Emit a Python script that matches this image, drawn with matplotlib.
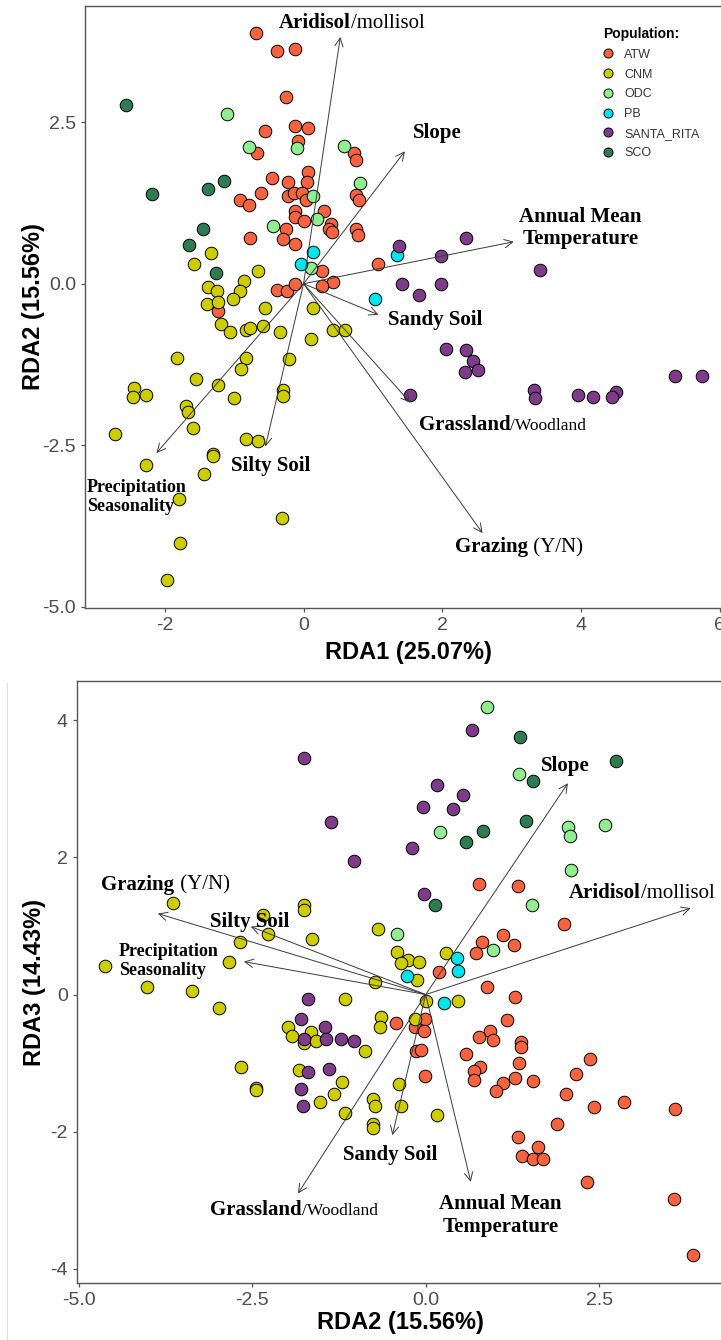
import numpy as np
import matplotlib
matplotlib.use("Agg")
import matplotlib.pyplot as plt
from matplotlib.lines import Line2D
from matplotlib.offsetbox import TextArea, HPacker, AnnotationBbox

plt.rcParams['axes.unicode_minus'] = False
plt.rcParams['font.family'] = ['Liberation Sans', 'DejaVu Sans']

populations = ["ATW", "CNM", "ODC", "PB", "SANTA_RITA", "SCO"]
pop_colors = ["#F8633F", "#CDCD00", "#90EE90", "#00E5EE", "#7D3B8A", "#2E7D52"]

# site scores on RDA1 / RDA2
atw_12 = [(-0.68, 3.88), (-0.38, 3.61), (-0.13, 3.63), (-0.25, 2.89), (-0.56, 2.36), (-0.13, 2.44),
          (0.07, 2.41), (-0.08, 2.21), (-0.67, 2.03), (0.73, 2.02), (0.76, 1.92), (0.06, 1.73),
          (-0.45, 1.64), (-0.23, 1.57), (0.05, 1.57), (-0.62, 1.41), (-0.23, 1.36), (-0.14, 1.41),
          (-0.02, 1.40), (0.04, 1.30), (-0.91, 1.30), (-0.79, 1.22), (0.76, 1.38), (0.80, 1.30),
          (-0.12, 1.12), (-0.13, 1.04), (0.29, 1.13), (0.01, 0.97), (0.40, 0.93), (0.37, 0.84),
          (0.41, 0.80), (0.76, 0.84), (0.79, 0.76), (-0.25, 0.84), (-0.29, 0.70), (-0.12, 0.61),
          (-0.77, 0.71), (0.26, 0.19), (0.43, 0.02), (0.27, -0.03), (-0.38, -0.10), (-0.24, -0.12),
          (-0.13, -0.01), (-1.23, -0.42), (1.07, 0.30)]
cnm_12 = [(-1.34, 0.47), (-1.58, 0.31), (-0.66, 0.19), (-1.37, -0.05), (-1.25, -0.12), (-0.86, 0.05),
          (-0.92, -0.12), (-1.01, -0.23), (-1.39, -0.32), (-1.23, -0.29), (-0.56, -0.37), (0.14, -0.37),
          (-1.19, -0.62), (-1.06, -0.74), (-0.83, -0.72), (-0.77, -0.68), (-0.58, -0.66), (-0.34, -0.74),
          (0.42, -0.71), (0.60, -0.71), (0.11, -0.85), (-1.82, -1.15), (-0.83, -1.15), (-0.90, -1.32),
          (-0.21, -1.17), (-1.55, -1.48), (-1.23, -1.57), (-2.45, -1.62), (-2.46, -1.75), (-2.27, -1.72),
          (-0.30, -1.65), (-0.30, -1.74), (-1.00, -1.77), (-1.69, -1.90), (-1.66, -1.98), (-1.59, -2.24),
          (-2.72, -2.33), (-0.83, -2.40), (-0.65, -2.43), (-1.31, -2.64), (-1.30, -2.66), (-2.27, -2.81),
          (-1.43, -2.94), (-1.79, -3.34), (-0.31, -3.62), (-1.78, -4.01), (-1.97, -4.59)]
odc_12 = [(-1.11, 2.63), (-0.10, 2.10), (-0.79, 2.11), (0.58, 2.14), (0.14, 1.36), (0.20, 1.01),
          (-0.44, 0.90), (0.11, 0.24), (0.82, 1.56)]
pb_12 = [(0.14, 0.49), (-0.03, 0.30), (1.34, 0.45), (1.03, -0.24)]
sr_12 = [(2.34, 0.71), (1.37, 0.58), (1.98, 0.43), (3.41, 0.21), (1.42, 0.00), (1.98, 0.00),
         (1.67, -0.17), (2.06, -1.01), (2.34, -1.02), (2.44, -1.20), (2.33, -1.37), (2.51, -1.34),
         (1.54, -1.73), (3.32, -1.65), (3.34, -1.77), (3.95, -1.73), (4.17, -1.75), (4.50, -1.68),
         (4.44, -1.76), (5.36, -1.43), (5.75, -1.43)]
sco_12 = [(-2.56, 2.76), (-2.18, 1.39), (-1.37, 1.46), (-1.15, 1.59), (-1.45, 0.85), (-1.65, 0.60),
          (-1.26, 0.16)]

# site scores on RDA2 / RDA3
atw_23 = [(0.77, 1.61), (1.33, 1.58), (2.00, 1.03), (1.11, 0.87), (0.81, 0.77), (1.27, 0.72),
          (0.73, 0.61), (0.19, 0.33), (0.88, 0.11), (1.29, -0.04), (-0.43, -0.41), (-0.01, -0.36),
          (-0.15, -0.47), (-0.03, -0.53), (1.17, -0.37), (0.93, -0.53), (0.97, -0.66), (0.77, -0.62),
          (1.37, -0.69), (1.37, -0.76), (-0.14, -0.82), (-0.07, -0.81), (0.58, -0.87), (2.37, -0.94),
          (1.35, -1.00), (0.79, -1.06), (0.69, -1.11), (0.69, -1.25), (2.17, -1.16), (-0.01, -1.19),
          (1.29, -1.21), (1.55, -1.26), (1.11, -1.29), (1.01, -1.40), (2.02, -1.45), (2.42, -1.64),
          (2.86, -1.57), (3.60, -1.67), (1.90, -1.89), (1.33, -2.08), (1.62, -2.22), (1.39, -2.35),
          (1.54, -2.40), (1.69, -2.40), (2.33, -2.73), (3.58, -2.98), (3.85, -3.79)]
cnm_23 = [(-3.64, 1.33), (-1.76, 1.30), (-1.75, 1.23), (-2.35, 1.16), (-2.27, 0.88), (-2.68, 0.76),
          (-1.64, 0.81), (-2.83, 0.48), (-4.62, 0.42), (-4.02, 0.11), (-3.37, 0.05), (-2.98, -0.19),
          (-1.17, -0.06), (-1.99, -0.47), (-1.92, -0.60), (-1.66, -0.54), (-1.76, -0.71), (-1.58, -0.67),
          (-2.66, -1.06), (-1.82, -1.10), (-2.45, -1.36), (-2.44, -1.39), (-1.20, -1.28), (-1.32, -1.45),
          (-1.52, -1.57), (-1.16, -1.72), (-0.69, 0.95), (-0.41, 0.62), (-0.25, 0.50), (-0.35, 0.46),
          (-0.09, 0.48), (0.29, 0.60), (-0.13, 0.21), (-0.73, 0.19), (0.01, -0.10), (0.46, -0.10),
          (-0.65, -0.33), (-0.66, -0.47), (-0.15, -0.35), (-0.87, -0.83), (-0.39, -1.30), (-0.76, -1.52),
          (-0.73, -1.62), (-0.35, -1.62), (0.17, -1.76), (-0.76, -1.89), (-0.76, -1.95)]
odc_23 = [(0.88, 4.19), (1.34, 3.21), (2.05, 2.44), (2.08, 2.31), (2.58, 2.47), (0.21, 2.37),
          (2.09, 1.82), (1.53, 1.30), (-0.41, 0.88), (0.97, 0.65)]
pb_23 = [(0.45, 0.53), (0.47, 0.34), (-0.27, 0.27), (0.27, -0.12)]
sr_23 = [(-1.76, 3.45), (-1.36, 2.52), (-1.03, 1.94), (-1.69, -0.07), (-1.79, -0.36), (-1.45, -0.47),
         (-1.75, -0.65), (-1.44, -0.65), (-1.22, -0.65), (-1.03, -0.68), (-1.69, -1.13), (-1.39, -1.08),
         (-1.80, -1.38), (-1.77, -1.62), (0.67, 3.86), (0.17, 3.05), (0.54, 2.91), (-0.04, 2.74),
         (0.39, 2.70), (-0.20, 2.14), (-0.02, 1.47)]
sco_23 = [(1.36, 3.76), (2.74, 3.40), (1.55, 3.11), (1.44, 2.53), (0.82, 2.39), (0.58, 2.23),
          (0.14, 1.31)]

# environmental biplot arrows
env_vars = ["Aridisol/mollisol", "Slope", "Annual Mean Temperature", "Sandy Soil",
            "Grassland/Woodland", "Grazing (Y/N)", "Silty Soil", "Precipitation Seasonality"]
env_rda1 = [0.53, 1.46, 3.03, 1.08, 1.54, 2.58, -0.55, -2.12]
env_rda2 = [3.82, 2.05, 0.65, -0.48, -1.84, -3.86, -2.52, -2.62]
env_rda3 = [1.26, 3.08, -2.73, -2.05, -2.90, 1.18, 0.99, 0.48]

scores_12 = [atw_12, cnm_12, odc_12, pb_12, sr_12, sco_12]
scores_23 = [atw_23, cnm_23, odc_23, pb_23, sr_23, sco_23]

BIG = 15
SERIF = 'Liberation Serif'

# label text pieces: (text, weight, size)
label_parts = {
    "Aridisol/mollisol": [("Aridisol", 'bold', BIG), ("/mollisol", 'normal', BIG)],
    "Slope": [("Slope", 'bold', BIG)],
    "Sandy Soil": [("Sandy Soil", 'bold', BIG)],
    "Grassland/Woodland": [("Grassland", 'bold', BIG), ("/Woodland", 'normal', 12.5)],
    "Grazing (Y/N)": [("Grazing", 'bold', BIG), (" (Y/N)", 'normal', BIG)],
    "Silty Soil": [("Silty Soil", 'bold', BIG)],
}
# label anchor positions for each panel
label_pos_12 = {
    "Aridisol/mollisol": (0.70, 4.04), "Slope": (1.93, 2.33), "Sandy Soil": (1.90, -0.56),
    "Grassland/Woodland": (2.87, -2.19), "Grazing (Y/N)": (3.11, -4.08), "Silty Soil": (-0.48, -2.82),
    "Annual Mean Temperature": (3.99, 0.86), "Precipitation Seasonality": (-3.12, -3.30),
}
label_pos_23 = {
    "Aridisol/mollisol": (3.11, 1.48), "Slope": (2.01, 3.33), "Sandy Soil": (-0.51, -2.34),
    "Grassland/Woodland": (-1.90, -3.14), "Grazing (Y/N)": (-3.75, 1.60), "Silty Soil": (-2.53, 1.06),
    "Annual Mean Temperature": (1.08, -3.22), "Precipitation Seasonality": (-4.42, 0.49),
}

fig = plt.figure(figsize=(7.21, 13.40), dpi=100)
W, H = 721.0, 1340.0


def px_axes(left, top, right, bottom):
    return fig.add_axes([left / W, 1 - bottom / H, (right - left) / W, (bottom - top) / H])


def style_axes(ax):
    for s in ax.spines.values():
        s.set_color('#555555')
        s.set_linewidth(1.0)
    ax.tick_params(direction='out', length=3, width=0.9, color='#555555',
                   labelsize=14, labelcolor='#4d4d4d', pad=3.5)


def draw_panel(ax, scores, ex, ey, label_pos):
    for pts, col in zip(scores, pop_colors):
        pts = np.array(pts)
        ax.scatter(pts[:, 0], pts[:, 1], s=82, c=col, edgecolors='black', linewidths=0.7, zorder=2)
    for name, x, y in zip(env_vars, ex, ey):
        ax.annotate('', xy=(x, y), xytext=(0, 0),
                    arrowprops=dict(arrowstyle='->,head_length=0.6,head_width=0.3', lw=0.7,
                                    color='#3a3a3a', shrinkA=0, shrinkB=0), zorder=3)
        lx, ly = label_pos[name]
        if name == "Annual Mean Temperature":
            ax.text(lx, ly, "Annual Mean\nTemperature", ha='center', va='center', family=SERIF,
                    fontweight='bold', fontsize=BIG, linespacing=1.15, zorder=5)
        elif name == "Precipitation Seasonality":
            ax.text(lx, ly, "Precipitation\nSeasonality", ha='left', va='center', family=SERIF,
                    fontweight='bold', fontsize=13, linespacing=1.2, zorder=5)
        else:
            boxes = [TextArea(t, textprops=dict(family=SERIF, fontweight=w, fontsize=sz, color='black'))
                     for t, w, sz in label_parts[name]]
            pack = HPacker(children=boxes, align='baseline', pad=0, sep=0)
            ab = AnnotationBbox(pack, (lx, ly), xycoords='data', box_alignment=(0.5, 0.5),
                                frameon=False, pad=0, zorder=5)
            ax.add_artist(ab)


# RDA1 vs RDA2
ax1 = px_axes(85, 6, 733, 608)
draw_panel(ax1, scores_12, env_rda1, env_rda2, label_pos_12)
ax1.set_xlim(-3.15, 6.19)
ax1.set_ylim(-5.02, 4.30)
ax1.set_xticks([-2, 0, 2, 4, 6])
ax1.set_xticklabels(["-2", "0", "2", "4", "6"])
ax1.set_yticks([-5.0, -2.5, 0.0, 2.5])
ax1.set_yticklabels(["-5.0", "-2.5", "0.0", "2.5"])
style_axes(ax1)

handles = [Line2D([], [], marker='o', ls='', markerfacecolor=c, markeredgecolor='black',
                  markeredgewidth=0.7, markersize=6.5) for c in pop_colors]
leg = ax1.legend(handles, populations, title="Population:", loc='upper left',
                 bbox_to_anchor=(603 / W, 1 - 27 / H), bbox_transform=fig.transFigure,
                 frameon=False, fontsize=9, labelcolor='#333333',
                 title_fontproperties={'weight': 'bold', 'size': 10},
                 handlelength=0.8, handletextpad=0.9, labelspacing=0.62,
                 borderpad=0, borderaxespad=0)
leg._legend_box.align = 'left'

fig.text(33.5 / W, 1 - 307 / H, "RDA2 (15.56%)", rotation=90, ha='center', va='center',
         fontsize=17, fontweight='bold')
fig.text(408 / W, 1 - 652 / H, "RDA1 (25.07%)", ha='center', va='center',
         fontsize=17, fontweight='bold')

# RDA2 vs RDA3
ax2 = px_axes(76.7, 681, 724, 1282.7)
draw_panel(ax2, scores_23, env_rda2, env_rda3, label_pos_23)
ax2.set_xlim(-5.03, 4.30)
ax2.set_ylim(-4.20, 4.57)
ax2.set_xticks([-5.0, -2.5, 0.0, 2.5])
ax2.set_xticklabels(["-5.0", "-2.5", "0.0", "2.5"])
ax2.set_yticks([-4, -2, 0, 2, 4])
style_axes(ax2)

fig.text(35 / W, 1 - 982 / H, "RDA3 (14.43%)", rotation=90, ha='center', va='center',
         fontsize=17, fontweight='bold')
fig.text(400 / W, 1 - 1323 / H, "RDA2 (15.56%)", ha='center', va='center',
         fontsize=17, fontweight='bold')

# thin frame line along the lower panel's left side
fig.add_artist(Line2D([7 / W, 7 / W], [0, 1 - 683 / H], color='#dddddd', lw=0.8))

fig.savefig("out.png", dpi=100)
